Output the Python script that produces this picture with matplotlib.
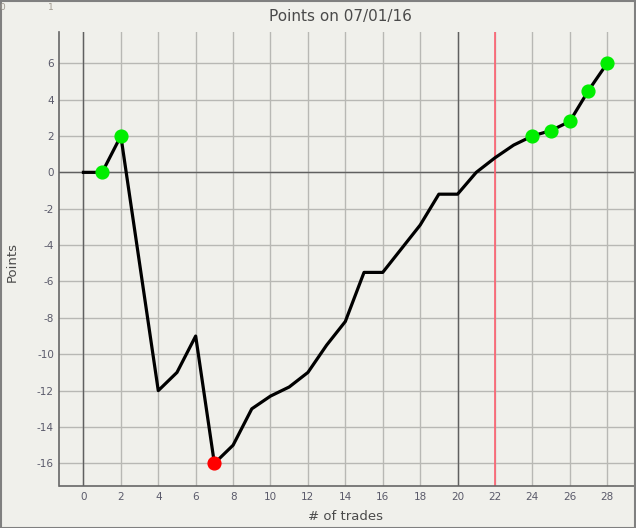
import matplotlib
matplotlib.use("Agg")
import matplotlib.pyplot as plt
from matplotlib.patches import Rectangle

plt.rcParams["axes.unicode_minus"] = False  # tirets simples comme dans l'original

# ── Données ──────────────────────────────────────────────────
trades = [0, 1, 2, 3, 4, 5, 6, 7, 8, 9, 10, 11, 12, 13, 14,
          15, 16, 17, 18, 19, 20, 21, 22, 23, 24, 25, 26, 27, 28]
points = [0, 0, 2, -5, -12, -11, -9, -16, -15, -13, -12.3, -11.8, -11, -9.5, -8.2,
          -5.5, -5.5, -4.2, -2.9, -1.2, -1.2, 0, 0.8, 1.5, 2.0, 2.3, 2.8, 4.5, 6.0]
green_idx = [1, 2, 24, 25, 26, 27, 28]
red_idx = [7]
split_x = 22
dark_x = [0, 20]
xticks = list(range(0, 29, 2))
yticks = list(range(-16, 7, 2))

BG = "#f0f0eb"
W, H = 636, 528

fig = plt.figure(figsize=(W / 100, H / 100), dpi=100, facecolor=BG)
ax = fig.add_axes([59.5 / W, 1 - 486.3 / H, 1 - 59.5 / W, (486.3 - 32.3) / H])
ax.set_facecolor(BG)

ax.set_xlim(-1.28, 29.54)
ax.set_ylim(-17.26, 7.7)
ax.set_xticks(xticks)
ax.set_yticks(yticks)
ax.grid(True, color="#b8b8b4", linewidth=1.0)
ax.set_axisbelow(True)
ax.tick_params(length=0, labelsize=7.5, labelcolor="#5a5a6a", pad=4)

for s in ["top", "right"]:
    ax.spines[s].set_visible(False)
for s in ["left", "bottom"]:
    ax.spines[s].set_color("#666666")
    ax.spines[s].set_linewidth(1.2)

ax.axhline(0, color="#606060", linewidth=1.0, zorder=1)
for xv in dark_x:
    ax.axvline(xv, color="#606060", linewidth=1.0, zorder=1)
ax.axvline(split_x, color="#ff6070", linewidth=1.2, zorder=1)

ax.plot(trades, points, color="black", linewidth=2.3, zorder=3)
ax.plot([trades[i] for i in green_idx], [points[i] for i in green_idx],
        "o", color="#00ee00", markersize=9.2, zorder=4)
ax.plot([trades[i] for i in red_idx], [points[i] for i in red_idx],
        "o", color="#ff0000", markersize=9.2, zorder=4)

fig.text(340 / W, 1 - 17 / H, "Points on 07/01/16", ha="center", va="center",
         fontsize=11, color="#4a4a4a")
fig.text(345 / W, 1 - 517 / H, "# of trades", ha="center", va="center",
         fontsize=9.5, color="#4a4a4a")
fig.text(12 / W, 1 - 262 / H, "Points", ha="center", va="center", rotation=90,
         fontsize=9.5, color="#4a4a4a")
fig.text(2 / W, 1 - 8 / H, "0", ha="center", va="center", fontsize=6.5, color="#a09a90")
fig.text(51 / W, 1 - 8 / H, "1", ha="center", va="center", fontsize=6.5, color="#a09a90")

# cadre de la fenêtre
fig.patches.append(Rectangle((0.5 / W, 0.5 / H), 1 - 1.5 / W, 1 - 1.5 / H,
                             transform=fig.transFigure, fill=False,
                             edgecolor="#808080", linewidth=1.5))

fig.savefig("out.png", dpi=100, facecolor=BG)
